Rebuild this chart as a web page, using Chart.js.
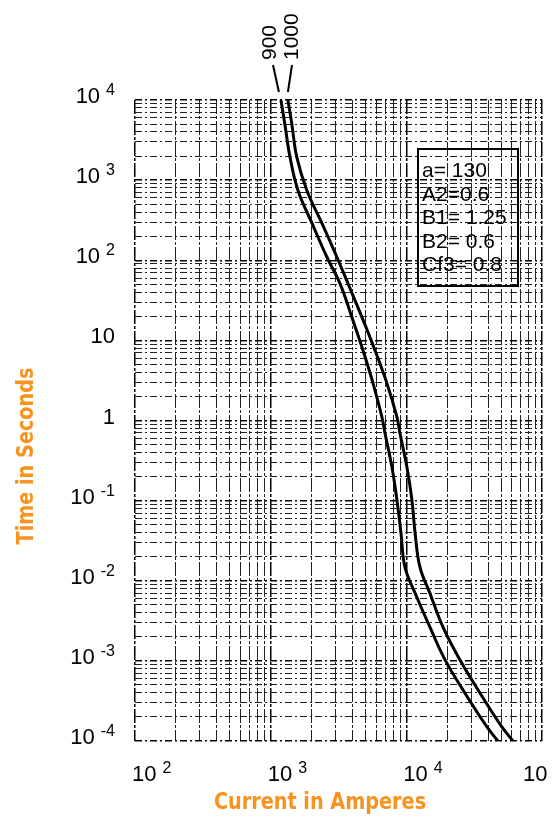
<!DOCTYPE html>
<html>
<head>
<meta charset="utf-8">
<script src="https://cdn.jsdelivr.net/npm/chart.js@4/dist/chart.umd.min.js"></script>
<style>
  html, body { margin: 0; padding: 0; background: #fff; }
  #wrap { width: 553px; height: 817px; position: relative; }
</style>
</head>
<body>
<div id="wrap"><canvas id="tcc"></canvas></div>
<script>
// curve "900"
const current900 = [1190, 1270, 1390, 1590, 2020, 2600, 3240, 3970, 4790, 5680, 6610, 6960, 7830, 8530, 9130, 9770, 11600, 14900, 19300, 27000, 39300, 47300]
const time900 = [10000, 5090, 1920, 744, 288, 109, 51.5, 19.4, 7.53, 2.92, 1.10, 0.695, 0.262, 0.101, 0.0394, 0.0148, 0.00703, 0.00265, 0.00103, 0.000398, 0.000150, 0.0001]

// curve "1000"
const current1000 = [1340, 1430, 1560, 1850, 2390, 3080, 3710, 4710, 5870, 7190, 8530, 8970, 10100, 11000, 11600, 12600, 14900, 18600, 24800, 34900, 50600, 61100]
const time1000 = [10000, 5090, 1920, 744, 288, 109, 51.5, 19.4, 7.53, 2.92, 1.10, 0.695, 0.262, 0.101, 0.0394, 0.0148, 0.00703, 0.00265, 0.00103, 0.000398, 0.000150, 0.0001]

// tick labels (base + exponent)
const xTickValues = [100, 1000, 10000, 100000]
const xTickExp = ['2', '3', '4', '5']
const yTickValues = [1e4, 1e3, 1e2, 10, 1, 0.1, 0.01, 0.001, 0.0001]
const yTickBase = ['10', '10', '10', '10', '1', '10', '10', '10', '10']
const yTickExp = ['4', '3', '2', '', '', '-1', '-2', '-3', '-4']

const curveNames = ['900', '1000']
const paramLines = ['a= 130', 'A2=0.6', 'B1= 1.25', 'B2= 0.6', 'Cf3= 0.8']

const ORANGE = '#f7931e'
const FONT = '"Liberation Sans", Arial, sans-serif'

// 로그 눈금: 각 decade마다 1..9 배수
function logTicks(minExp, maxExp) {
  const out = []
  for (let e = minExp; e < maxExp; e++) {
    for (let m = 1; m <= 9; m++) out.push({ value: Number((m * Math.pow(10, e)).toPrecision(3)) })
  }
  out.push({ value: Math.pow(10, maxExp) })
  return out
}

function isDecade(v) {
  const l = Math.log10(v)
  return Math.abs(l - Math.round(l)) < 1e-9
}

function toPoints(xs, ys) {
  return xs.map((x, i) => ({ x, y: ys[i] }))
}

function drawPow(ctx, base, exp, x, y, alignRight) {
  ctx.font = '22px ' + FONT
  const wb = ctx.measureText(base).width
  ctx.font = '16px ' + FONT
  const we = exp ? ctx.measureText(exp).width + 6 : 0
  const left = alignRight ? x - wb - we : x
  ctx.textAlign = 'left'
  ctx.textBaseline = 'alphabetic'
  ctx.font = '22px ' + FONT
  ctx.fillText(base, left, y)
  if (exp) {
    ctx.font = '16px ' + FONT
    ctx.fillText(exp, left + wb + 6, y - 8)
  }
}

const annotations = {
  id: 'annotations',
  afterDraw(chart) {
    const { ctx, chartArea, scales } = chart
    const W = chart.width
    ctx.save()
    ctx.fillStyle = '#000'

    // x tick labels
    xTickValues.forEach((v, i) => {
      const px = scales.x.getPixelForValue(v)
      drawPow(ctx, '10', xTickExp[i], Math.min(px - 3, W - 30), chartArea.bottom + 40, false)
    })
    // y tick labels
    yTickValues.forEach((v, i) => {
      const py = scales.y.getPixelForValue(v)
      drawPow(ctx, yTickBase[i], yTickExp[i], 115, py + 3, true)
    })

    // axis titles
    ctx.fillStyle = ORANGE
    ctx.font = 'bold 23px "DejaVu Sans Condensed", "DejaVu Sans", sans-serif'
    ctx.textAlign = 'center'
    ctx.textBaseline = 'middle'
    ctx.save()
    ctx.translate(320, 803)
    ctx.scale(0.93, 1)
    ctx.fillText('Current in Amperes', 0, 0)
    ctx.restore()
    ctx.save()
    ctx.translate(27, 456)
    ctx.rotate(-Math.PI / 2)
    ctx.scale(0.93, 1)
    ctx.fillText('Time in Seconds', 0, 0)
    ctx.restore()

    // curve labels with leader lines
    ctx.fillStyle = '#000'
    ctx.strokeStyle = '#000'
    ctx.lineWidth = 2
    ctx.font = '21px ' + FONT
    const tops = [current900[0], current1000[0]]
    const labelX = [270, 292]
    curveNames.forEach((name, i) => {
      const cx = scales.x.getPixelForValue(tops[i])
      ctx.beginPath()
      ctx.moveTo(labelX[i] + (i === 0 ? 3 : 0), 65)
      ctx.lineTo(cx + (i === 0 ? -2 : 0), chartArea.top - 8)
      ctx.stroke()
      ctx.save()
      ctx.translate(labelX[i], 60)
      ctx.rotate(-Math.PI / 2)
      ctx.textAlign = 'left'
      ctx.textBaseline = 'middle'
      ctx.fillText(name, 0, 0)
      ctx.restore()
    })

    // parameter box
    const bx = chartArea.right - 124
    const by = chartArea.top + 49
    ctx.lineWidth = 2
    ctx.strokeRect(bx, by, 100, 137)
    ctx.font = '21px ' + FONT
    ctx.textAlign = 'left'
    ctx.textBaseline = 'alphabetic'
    paramLines.forEach((t, i) => ctx.fillText(t, bx + 4, by + 28 + i * 23.5))

    ctx.restore()
  }
}

const gridColor = c => (c.tick && isDecade(c.tick.value) ? '#000' : '#222')
const gridWidth = c => (c.tick && isDecade(c.tick.value) ? 1.5 : 1)

new Chart(document.getElementById('tcc'), {
  type: 'line',
  data: {
    datasets: [
      { label: curveNames[0], data: toPoints(current900, time900), borderColor: '#000', borderWidth: 3, pointRadius: 0, tension: 0.4, fill: false },
      { label: curveNames[1], data: toPoints(current1000, time1000), borderColor: '#000', borderWidth: 3, pointRadius: 0, tension: 0.4, fill: false },
    ],
  },
  options: {
    responsive: true,
    maintainAspectRatio: false,
    animation: false,
    layout: { padding: { left: 135, top: 100, right: 11, bottom: 76 } },
    plugins: { legend: { display: false }, tooltip: { enabled: false } },
    scales: {
      x: {
        type: 'logarithmic',
        min: 100,
        max: 100000,
        afterBuildTicks: s => { s.ticks = logTicks(2, 5) },
        ticks: { display: false },
        grid: { color: gridColor, lineWidth: gridWidth, drawTicks: false },
        border: { display: false, dash: [14, 2, 3, 2] },
      },
      y: {
        type: 'logarithmic',
        min: 0.0001,
        max: 10000,
        afterBuildTicks: s => { s.ticks = logTicks(-4, 4) },
        ticks: { display: false },
        grid: { color: gridColor, lineWidth: gridWidth, drawTicks: false },
        border: { display: false, dash: [7, 3, 2, 3] },
      },
    },
  },
  plugins: [annotations],
})
</script>
</body>
</html>
